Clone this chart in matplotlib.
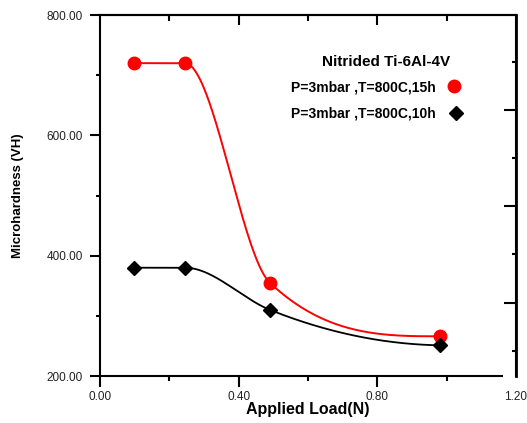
import numpy as np
import matplotlib
matplotlib.use("Agg")
import matplotlib.pyplot as plt

plt.rcParams['font.family'] = ['Liberation Sans', 'DejaVu Sans']

# data (load in N, hardness in VH)
load = [0.098, 0.245, 0.49, 0.98]
hv_15h = [720, 720, 355, 266]
hv_10h = [380, 380, 310, 251]
labels = ['P=3mbar ,T=800C,15h', 'P=3mbar ,T=800C,10h']
title = 'Nitrided Ti-6Al-4V'


def smooth(x, y, xs):
    # Fritsch-Carlson monotone cubic, used only for the connecting line
    x = np.asarray(x, float)
    y = np.asarray(y, float)
    h = np.diff(x)
    d = np.diff(y) / h
    n = len(x)
    m = np.zeros(n)
    for k in range(1, n - 1):
        m[k] = (h[k] * d[k - 1] + h[k - 1] * d[k]) / (h[k - 1] + h[k])
    m[0] = ((2 * h[0] + h[1]) * d[0] - h[0] * d[1]) / (h[0] + h[1])
    if m[0] * d[0] <= 0:
        m[0] = 0
    m[-1] = ((2 * h[-1] + h[-2]) * d[-1] - h[-1] * d[-2]) / (h[-1] + h[-2])
    if m[-1] * d[-1] <= 0:
        m[-1] = 0
    for k in range(n - 1):
        if d[k] == 0:
            m[k] = m[k + 1] = 0
    for k in range(n - 1):
        if d[k] == 0:
            continue
        a = m[k] / d[k]
        b = m[k + 1] / d[k]
        r = a * a + b * b
        if r > 9:
            tau = 3 / np.sqrt(r)
            m[k] = tau * a * d[k]
            m[k + 1] = tau * b * d[k]
    idx = np.clip(np.searchsorted(x, xs) - 1, 0, n - 2)
    t = (xs - x[idx]) / h[idx]
    h00 = 2 * t**3 - 3 * t**2 + 1
    h10 = t**3 - 2 * t**2 + t
    h01 = -2 * t**3 + 3 * t**2
    h11 = t**3 - t**2
    return h00 * y[idx] + h10 * h[idx] * m[idx] + h01 * y[idx + 1] + h11 * h[idx] * m[idx + 1]


fig = plt.figure(figsize=(5.27, 4.23), dpi=100)
ax = fig.add_axes([100 / 527, 47 / 423, 416 / 527, 361 / 423])

xs = np.linspace(load[0], load[-1], 400)
ax.plot(xs, smooth(load, hv_15h, xs), color='red', lw=1.4)
ax.plot(xs, smooth(load, hv_10h, xs), color='black', lw=1.3)
ax.plot(load, hv_15h, 'o', color='red', ms=9, mec='red')
ax.plot(load, hv_10h, 'D', color='black', ms=7)

ax.set_xlim(0, 1.2)
ax.set_ylim(200, 800)
ax.set_xticks([0, 0.4, 0.8, 1.2])
ax.set_xticks([0.2, 0.6, 1.0], minor=True)
ax.set_xticklabels(['0.00', '0.40', '0.80', '1.20'])
ax.set_yticks([200, 400, 600, 800])
ax.set_yticks([300, 500, 700], minor=True)
ax.set_yticklabels(['200.00', '400.00', '600.00', '800.00'])

for s in ax.spines.values():
    s.set_linewidth(1.5)
ax.spines['bottom'].set_bounds(0, 1.16)

ax.tick_params(axis='y', which='major', direction='out', length=7.2, width=1.5,
               labelsize=8.5, pad=5, labelcolor='#222')
ax.tick_params(axis='y', which='minor', direction='out', length=3, width=1.5)
ax.tick_params(axis='x', which='major', direction='out', length=8, width=1.5,
               labelsize=8.5, pad=3, labelcolor='#222')
ax.tick_params(axis='x', which='minor', direction='out', length=3.5, width=1.5)
ax.xaxis.get_major_ticks()[-1].tick1line.set_visible(False)

top = ax.secondary_xaxis('top')
top.set_xticks([0.4, 0.8])
top.set_xticks([0.2, 0.6, 1.0], minor=True)
top.tick_params(which='major', direction='in', length=7, width=1.5, labeltop=False)
top.tick_params(which='minor', direction='in', length=4, width=1.5)
top.spines['top'].set_linewidth(1.5)

right = ax.secondary_yaxis('right')
right.set_yticks([322, 482, 642])
right.set_yticks([242, 402, 562, 722], minor=True)
right.tick_params(which='major', direction='in', length=9, width=1.5, labelright=False)
right.tick_params(which='minor', direction='in', length=3, width=1.5)
right.spines['right'].set_linewidth(2)

ax.set_xlabel('Applied Load(N)', fontsize=11.5, fontweight='bold', va='center')
ax.xaxis.set_label_coords(0.5, -0.093)
ax.set_ylabel('Microhardness (VH)', fontsize=9.5, fontweight='bold', labelpad=16)

# legend drawn by hand
fig.text(386 / 527, 1 - 62 / 423, title, fontsize=11, fontweight='bold',
         ha='center', va='center')
fig.text(436 / 527, 1 - 87 / 423, labels[0], fontsize=10, fontweight='bold',
         ha='right', va='center')
fig.text(436 / 527, 1 - 113 / 423, labels[1], fontsize=10, fontweight='bold',
         ha='right', va='center')
fig.lines.append(plt.Line2D([454 / 527], [1 - 86 / 423], marker='o', color='red',
                            ms=9, transform=fig.transFigure))
fig.lines.append(plt.Line2D([456 / 527], [1 - 113 / 423], marker='D', color='black',
                            ms=7, transform=fig.transFigure))

fig.savefig('out.png', dpi=100)
